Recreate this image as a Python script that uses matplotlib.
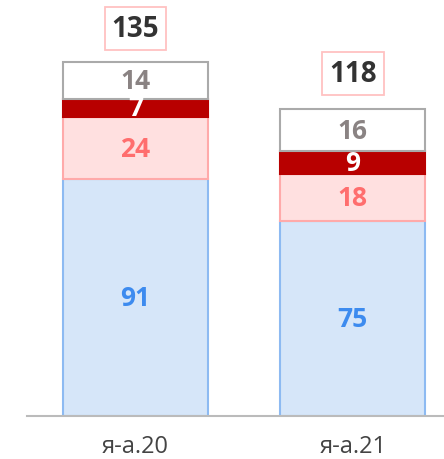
import matplotlib
matplotlib.use("Agg")
import matplotlib.pyplot as plt
import numpy as np

categories = ["я-а.20", "я-а.21"]
seg_blue = [91, 75]
seg_pink = [24, 18]
seg_red = [7, 9]
seg_white = [14, 16]
totals = [135, 118]

plt.rcParams['font.family'] = ['Open Sans', 'DejaVu Sans']

fig = plt.figure(figsize=(4.44, 4.60), dpi=100)
ax = fig.add_axes([27/444, 43/460, 417/444, 417/460])

x = np.arange(len(categories))
w = 0.667

series = [
    (seg_blue, "#D6E6F9", "#8DBAF2", "#3D8BEF"),
    (seg_pink, "#FFE0E0", "#FFAAAA", "#FF6E6E"),
    (seg_red, "#B80000", "#B80000", "white"),
    (seg_white, "white", "#AAAAAA", "#8A8383"),
]

bottom = np.zeros(len(categories))
for vals, fc, ec, tc in series:
    vals = np.array(vals, dtype=float)
    ax.bar(x, vals, w, bottom=bottom, color=fc, edgecolor=ec, linewidth=1.5, zorder=2)
    for xi, b, v in zip(x, bottom, vals):
        ax.text(xi, b + v / 2, f"{int(v)}", ha="center", va="center",
                color=tc, fontsize=19, fontweight="bold", zorder=3)
    bottom += vals

for xi, t in zip(x, totals):
    ax.annotate(f"{t}", (xi, t), xytext=(0, 26), textcoords="offset points",
                ha="center", va="center", fontsize=20, fontweight="bold", color="#333333",
                bbox=dict(boxstyle="square,pad=0.25", fc="white", ec="#FFC2C2", lw=1.3))

ax.set_xlim(-0.5, 1.42)
ax.set_ylim(0, 160.4)
ax.set_xticks(x)
ax.set_xticklabels(categories, fontsize=17, color="#444444")
ax.tick_params(axis="x", length=0, pad=13)
ax.set_yticks([])
for s in ["top", "right", "left"]:
    ax.spines[s].set_visible(False)
ax.spines["bottom"].set_color("#BBBBBB")
ax.spines["bottom"].set_linewidth(1.5)
ax.patch.set_alpha(0)

fig.savefig("out.png", dpi=100)
